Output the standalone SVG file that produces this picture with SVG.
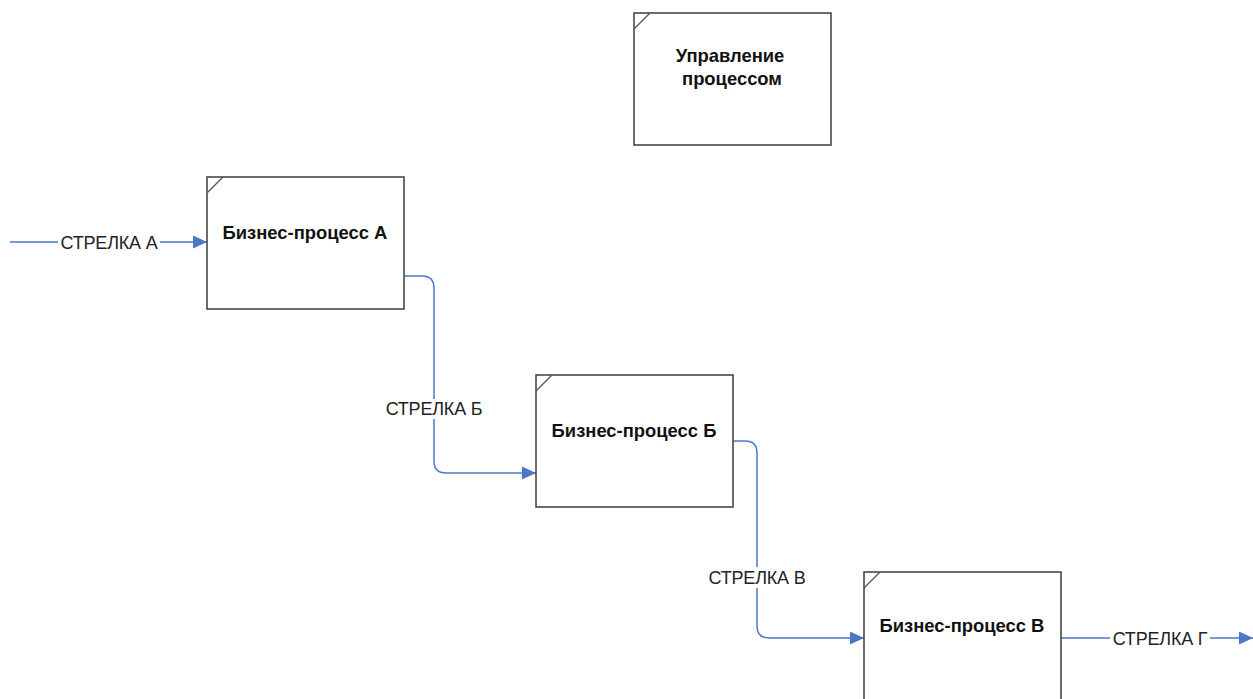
<svg xmlns="http://www.w3.org/2000/svg" width="1253" height="699" viewBox="0 0 1253 699">
<style>
.box{fill:#fff;stroke:#3c3c3c;stroke-width:1.5}
.corner{stroke:#555;stroke-width:1.2;fill:none}
.title{font-family:"Liberation Sans",Arial,sans-serif;font-size:18.4px;font-weight:bold;fill:#111;text-anchor:middle}
.lbl{font-family:"Liberation Sans",Arial,sans-serif;font-size:18px;fill:#222;text-anchor:middle;letter-spacing:-0.2px}
.conn{fill:none;stroke:#4a78c4;stroke-width:1.5}
.bg{fill:#fff}
</style>
<defs>
<marker id="arr" markerWidth="14" markerHeight="13" refX="14" refY="6.5" orient="auto" markerUnits="userSpaceOnUse">
<path d="M0,0 L14,6.5 L0,13 Z" fill="#4a78c4"/>
</marker>
</defs>
<g id="connectors">
<path class="conn" d="M10,242 H207" marker-end="url(#arr)"/>
<rect class="bg" x="58" y="233" width="102" height="18"/>
<text class="lbl" x="109" y="249">СТРЕЛКА А</text>
<path class="conn" d="M404,276 H422 Q434,276 434,288 V461 Q434,473 446,473 H536" marker-end="url(#arr)"/>
<rect class="bg" x="384" y="399" width="101" height="20"/>
<text class="lbl" x="434" y="415">СТРЕЛКА Б</text>
<path class="conn" d="M733,441 H745 Q757,441 757,453 V626 Q757,638 769,638 H864" marker-end="url(#arr)"/>
<rect class="bg" x="706" y="567" width="102" height="21"/>
<text class="lbl" x="757" y="584">СТРЕЛКА В</text>
<path class="conn" d="M1061,638 H1253" marker-end="url(#arr)"/>
<rect class="bg" x="1110" y="629" width="100" height="18"/>
<text class="lbl" x="1160" y="645">СТРЕЛКА Г</text>
</g>
<g id="node-control">
<rect class="box" x="634" y="13" width="197" height="132"/>
<path class="corner" d="M634,29 L650,13"/>
<text class="title" x="730" y="62">Управление</text>
<text class="title" x="732" y="85">процессом</text>
</g>
<g id="node-a">
<rect class="box" x="207" y="177" width="197" height="132"/>
<path class="corner" d="M207,193 L223,177"/>
<text class="title" x="305" y="239">Бизнес-процесс А</text>
</g>
<g id="node-b">
<rect class="box" x="536" y="375" width="197" height="132"/>
<path class="corner" d="M536,391 L552,375"/>
<text class="title" x="634" y="437">Бизнес-процесс Б</text>
</g>
<g id="node-c">
<rect class="box" x="864" y="572" width="197" height="140"/>
<path class="corner" d="M864,588 L880,572"/>
<text class="title" x="962" y="632">Бизнес-процесс В</text>
</g>
</svg>
